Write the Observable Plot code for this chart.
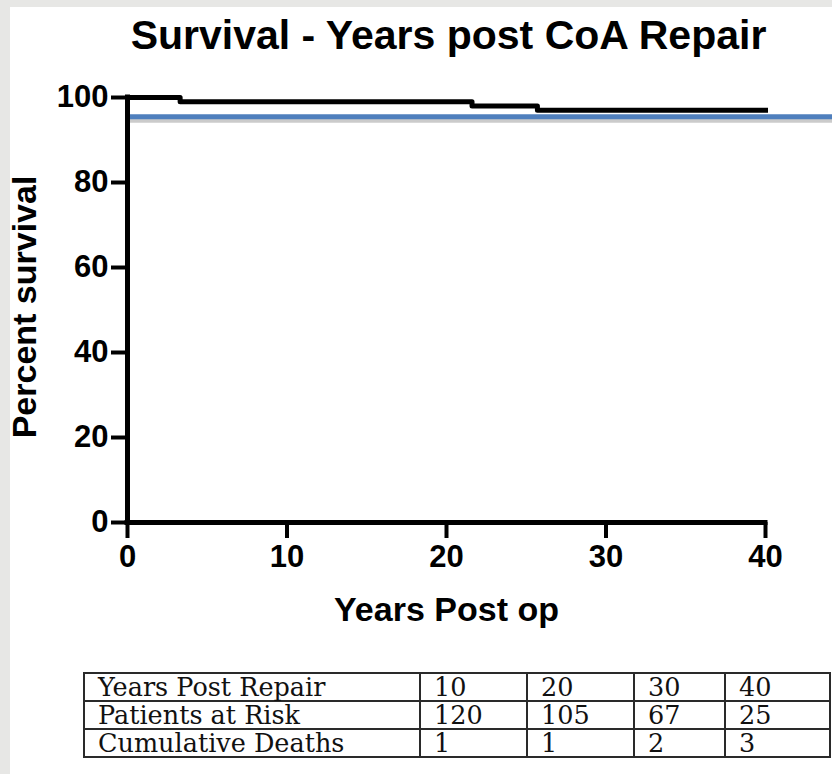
<!DOCTYPE html>
<html>
<head>
<meta charset="utf-8">
<script src="https://cdn.jsdelivr.net/npm/d3@7"></script>
<script src="https://cdn.jsdelivr.net/npm/@observablehq/plot@0.6"></script>
<style>
  html, body { margin: 0; padding: 0; }
  body { width: 832px; height: 774px; background: #e7e7e5; position: relative; overflow: hidden; }
  #panel { position: absolute; left: 10px; top: 7px; right: 0; bottom: 0; background: #fff; }
  #chart { position: absolute; left: 0; top: 0; }
  #risk { position: absolute; left: 83px; top: 672px; border-collapse: collapse;
          font-family: "DejaVu Serif", "Liberation Serif", serif; font-size: 25.5px; color: #111; }
  #risk td { border: 2px solid #2a2a2a; height: 26px; line-height: 26px; padding: 0 0 0 13px; white-space: nowrap; box-sizing: border-box; }
</style>
</head>
<body>
<div id="panel"></div>
<div id="chart"></div>
<table id="risk"></table>
<script>
// ---- data ----
const chartTitle = "Survival - Years post CoA Repair";
const xTitle = "Years Post op";
const yTitle = "Percent survival";
const stepYears = [0, 3.3, 21.6, 25.7, 40];
const survivalPct = [100, 99, 98, 97, 97];
const refLevel = [95.5];
const refSpan = [0, 44.5];
const xTicks = [0, 10, 20, 30, 40];
const yTicks = [0, 20, 40, 60, 80, 100];
const rowLabels = ["Years Post Repair", "Patients at Risk", "Cumulative Deaths"];
const tableYears = [10, 20, 30, 40];
const atRisk = [120, 105, 67, 25];
const cumDeaths = [1, 1, 2, 3];
const colWidths = [336, 107, 107, 91, 105];

const curve = stepYears.map((x, i) => ({x, y: survivalPct[i]}));
const font = "Liberation Sans, Arial, Helvetica, sans-serif";

const plot = Plot.plot({
  width: 832,
  height: 640,
  marginLeft: 127,
  marginRight: 67,
  marginTop: 97,
  marginBottom: 118,
  style: {background: "transparent", fontFamily: font, color: "black", overflow: "visible"},
  x: {domain: [0, 40], axis: null},
  y: {domain: [0, 100], axis: null},
  marks: [
    // reference line with shadow
    Plot.ruleY(refLevel, {x1: refSpan[0], x2: refSpan[1], stroke: "#8c8c8c", strokeOpacity: 0.45, strokeWidth: 4, dy: 4, clip: false}),
    Plot.ruleY(refLevel, {x1: refSpan[0], x2: refSpan[1], stroke: "#4f7fbd", strokeWidth: 5, clip: false}),
    // survival step curve
    Plot.line(curve, {x: "x", y: "y", curve: "step-after", stroke: "black", strokeWidth: 5, strokeLinecap: "square"}),
    // axes lines
    Plot.ruleX([0], {y1: 0, y2: 100, stroke: "black", strokeWidth: 5, strokeLinecap: "square"}),
    Plot.ruleY([0], {x1: 0, x2: 40, stroke: "black", strokeWidth: 5, strokeLinecap: "square"}),
    Plot.axisY({ticks: yTicks, tickSize: 16, tickPadding: 3, strokeWidth: 4, fontSize: 31, fontWeight: "bold", label: null, tickFormat: d => d}),
    Plot.axisX({ticks: xTicks, tickSize: 16, tickPadding: 6, strokeWidth: 4, fontSize: 31, fontWeight: "bold", label: null, tickFormat: d => d}),
    // titles
    Plot.text([xTitle], {frameAnchor: "bottom", lineAnchor: "top", dy: 74, fontSize: 34, fontWeight: "bold", text: d => d}),
    Plot.text([yTitle], {frameAnchor: "left", textAnchor: "middle", rotate: -90, dx: -102, dy: -3, fontSize: 34, fontWeight: "bold", text: d => d}),
    Plot.text([chartTitle], {frameAnchor: "top", lineAnchor: "bottom", dy: -49, dx: 2, fontSize: 41, fontWeight: "bold", text: d => d})
  ]
});
document.getElementById("chart").appendChild(plot);

// risk table
const table = document.getElementById("risk");
const rows = [tableYears, atRisk, cumDeaths];
rowLabels.forEach((label, r) => {
  const tr = document.createElement("tr");
  [label, ...rows[r]].forEach((v, c) => {
    const td = document.createElement("td");
    td.textContent = v;
    td.style.width = colWidths[c] + "px";
    tr.appendChild(td);
  });
  table.appendChild(tr);
});
</script>
</body>
</html>
